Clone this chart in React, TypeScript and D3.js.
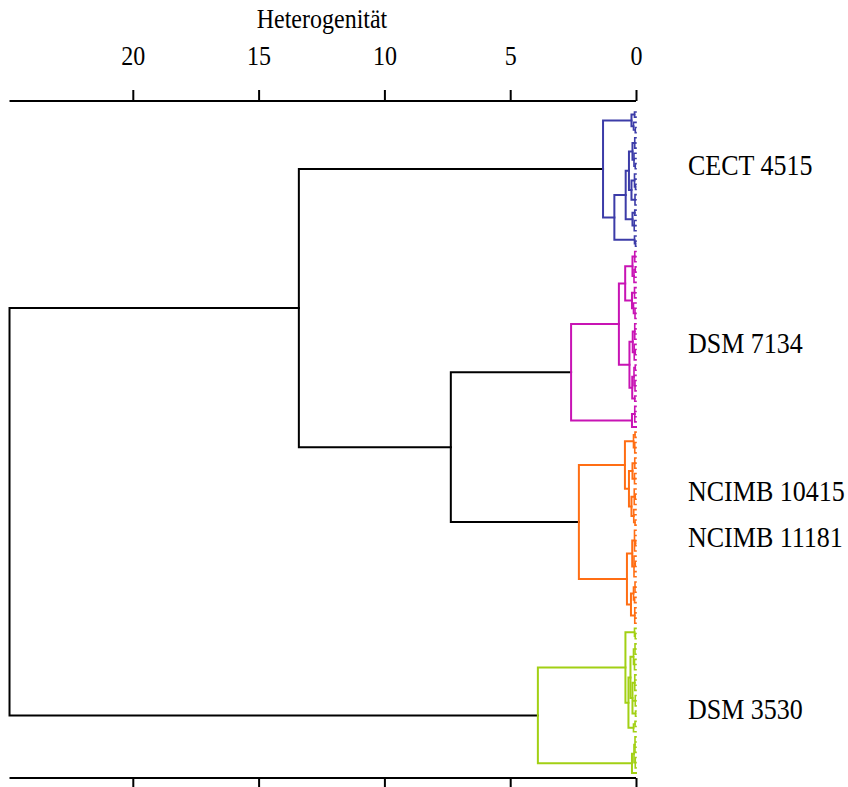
import React, { useEffect, useRef } from "react";
import * as d3 from "d3";

// leaf = 0 ; internal node = [mergeHeight, ...children]
type Tree = number | Tree[];

const AXIS_TITLE = "Heterogenität";
const AXIS_TICKS = [0, 5, 10, 15, 20];
const AXIS_MAX = 25;
const CLUSTER_LABELS = ["CECT 4515", "DSM 7134", "NCIMB 10415", "NCIMB 11181", "DSM 3530"];
const LABEL_LEAF_INDEX = [11, 45.4, 74, 83, 116.2];
const CLUSTER_COLORS = ["#3c3ca8", "#c814b4", "#ff6e14", "#a2d014"];
const LINK_COLOR = "#000000";

// cluster 1 (blue)
const BLUE: Tree = [1.31,
  [0.18, [0.06, 0, 0], [0.1, 0, [0.03, 0, 0]]],
  [0.86,
    [0.41,
      [0.28,
        [0.14, [0.05, 0, 0, 0], [0.08, 0, 0, [0.03, 0, 0]]],
        [0.18, [0.06, 0, 0, [0.02, 0, 0]], [0.04, 0, 0, 0]]],
      [0.14, [0.05, 0, 0], [0.07, 0, 0, 0]]],
    [0.06, 0, [0.02, 0, 0]]]];

// cluster 2 (magenta)
const MAGENTA: Tree = [2.58,
  [0.68,
    [0.43,
      [0.14, [0.05, 0, 0, 0], [0.08, [0.03, 0, 0], 0, 0]],
      [0.16, [0.06, 0, 0, 0], [0.1, 0, [0.04, 0, 0, 0]]]],
    [0.26,
      [0.13, [0.05, 0, 0, 0, 0], [0.07, 0, [0.03, 0, 0], 0]],
      [0.15, [0.08, [0.03, 0, 0], 0, [0.04, 0, 0, 0]], [0.05, 0, 0]]]],
  [0.16, [0.05, 0, 0, 0, 0], 0]];

// cluster 3 (orange)
const ORANGE: Tree = [2.27,
  [0.44,
    [0.1, [0.04, 0, 0], [0.05, 0, 0, 0]],
    [0.28,
      [0.14, [0.05, 0, 0, 0], [0.06, 0, 0, 0]],
      [0.18, [0.07, 0, [0.03, 0, 0], 0], [0.09, 0, 0, [0.04, 0, 0]]]]],
  [0.36,
    [0.15, [0.06, 0, 0, [0.02, 0, 0], 0], [0.08, 0, [0.03, 0, 0], 0, 0]],
    [0.2, [0.1, [0.04, 0, 0, 0], [0.06, 0, 0]], [0.05, 0, 0, 0, 0]]]];

// cluster 4 (green)
const GREEN: Tree = [3.9,
  [0.42,
    [0.06, 0, [0.03, 0, 0]],
    [0.3,
      [0.22,
        [0.1, [0.04, 0, 0, 0], [0.06, 0, 0, 0]],
        [0.14, [0.05, 0, 0, 0, 0], [0.03, 0, 0, 0], [0.02, 0, 0]]],
      [0.1, [0.04, 0, 0], 0]]],
  [0.16, [0.08, [0.04, 0, 0, 0, 0], [0.03, 0, 0, 0]], 0]];

const CLUSTERS: Tree[] = [BLUE, MAGENTA, ORANGE, GREEN];
const ROOT: Tree = [24.9, [13.4, BLUE, [7.36, MAGENTA, ORANGE]], GREEN];

interface Node {
  h: number;
  color: string;
  children?: Node[];
  leaf?: number;
}

function build(t: Tree, color: string, counter: { i: number }): Node {
  const ci = CLUSTERS.indexOf(t);
  const c = ci >= 0 ? CLUSTER_COLORS[ci] : color;
  if (typeof t === "number") {
    return { h: t, color: c, leaf: counter.i++ };
  }
  const [h, ...kids] = t as Tree[];
  return { h: h as number, color: c, children: kids.map((k) => build(k, c, counter)) };
}

const W = 848;
const H = 787;
const FONT = "'Liberation Serif', 'Times New Roman', serif";

export default function App() {
  const topRef = useRef<SVGGElement>(null);
  const botRef = useRef<SVGGElement>(null);

  const counter = { i: 0 };
  const rootData = build(ROOT, LINK_COLOR, counter);
  const root = d3.hierarchy<Node>(rootData, (d) => d.children);
  const nLeaves = counter.i;

  const x = d3.scaleLinear().domain([0, AXIS_MAX]).range([636, 636 - AXIS_MAX * 25.16]);
  const y = d3.scaleLinear().domain([0, nLeaves - 1]).range([112, 773]);

  const ypos = new Map<d3.HierarchyNode<Node>, number>();
  root.eachAfter((n) => {
    if (n.children && n.children.length) {
      const a = ypos.get(n.children[0])!;
      const b = ypos.get(n.children[n.children.length - 1])!;
      ypos.set(n, (a + b) / 2);
    } else {
      ypos.set(n, y(n.data.leaf!));
    }
  });

  const paths: { d: string; color: string; w: number }[] = [];
  root.each((n) => {
    if (!n.children) return;
    const px = x(n.data.h);
    const parts: string[] = [];
    const first = ypos.get(n.children[0])!;
    const last = ypos.get(n.children[n.children.length - 1])!;
    parts.push(`M${px},${first}V${last}`);
    n.children.forEach((c) => {
      parts.push(`M${x(c.data.h)},${ypos.get(c)}H${px}`);
    });
    const big = n.data.h > 0.12;
    paths.push({ d: parts.join(""), color: n.data.color, w: big ? 2 : 1.6 });
  });

  useEffect(() => {
    const top = d3.select(topRef.current!);
    top.call(d3.axisTop(x).tickValues(AXIS_TICKS).tickSize(11).tickSizeOuter(0).tickFormat(d3.format("d")) as any);
    top.select(".domain").remove();
    top.attr("font-family", FONT).attr("font-size", 24);
    top.selectAll(".tick line").attr("stroke", "#000").attr("stroke-width", 2);
    top
      .selectAll(".tick text")
      .attr("fill", "#000")
      .attr("y", 0)
      .attr("dy", null)
      .attr("transform", "translate(0,-36) scale(1,1.15)");

    const bot = d3.select(botRef.current!);
    bot.call(d3.axisBottom(x).tickValues(AXIS_TICKS).tickSize(11).tickSizeOuter(0).tickFormat(() => "") as any);
    bot.select(".domain").remove();
    bot.selectAll(".tick line").attr("stroke", "#000").attr("stroke-width", 2);
  }, []);

  const x0 = x(0);
  const xr = x(24.9);

  return (
    <svg width={W} height={H} style={{ position: "absolute", left: 0, top: 0, background: "#fff" }}>
      <text
        transform="translate(322,28) scale(1,1.1)"
        textAnchor="middle"
        fontFamily={FONT}
        fontSize={24}
        fill="#000"
      >
        {AXIS_TITLE}
      </text>
      <g ref={topRef} transform="translate(0,101)" />
      <line x1={xr} x2={x0} y1={101} y2={101} stroke="#000" strokeWidth={2} />
      <g ref={botRef} transform="translate(0,778)" />
      <line x1={xr} x2={x0} y1={778} y2={778} stroke="#000" strokeWidth={2} />
      <g fill="none" strokeLinecap="square">
        {paths.map((p, i) => (
          <path key={i} d={p.d} stroke={p.color} strokeWidth={p.w} />
        ))}
      </g>
      <g fontFamily={FONT} fontSize={26} fill="#000">
        {CLUSTER_LABELS.map((lab, i) => (
          <text key={lab} transform={`translate(688,${y(LABEL_LEAF_INDEX[i]) + 6.5}) scale(1,1.1)`}>
            {lab}
          </text>
        ))}
      </g>
    </svg>
  );
}
